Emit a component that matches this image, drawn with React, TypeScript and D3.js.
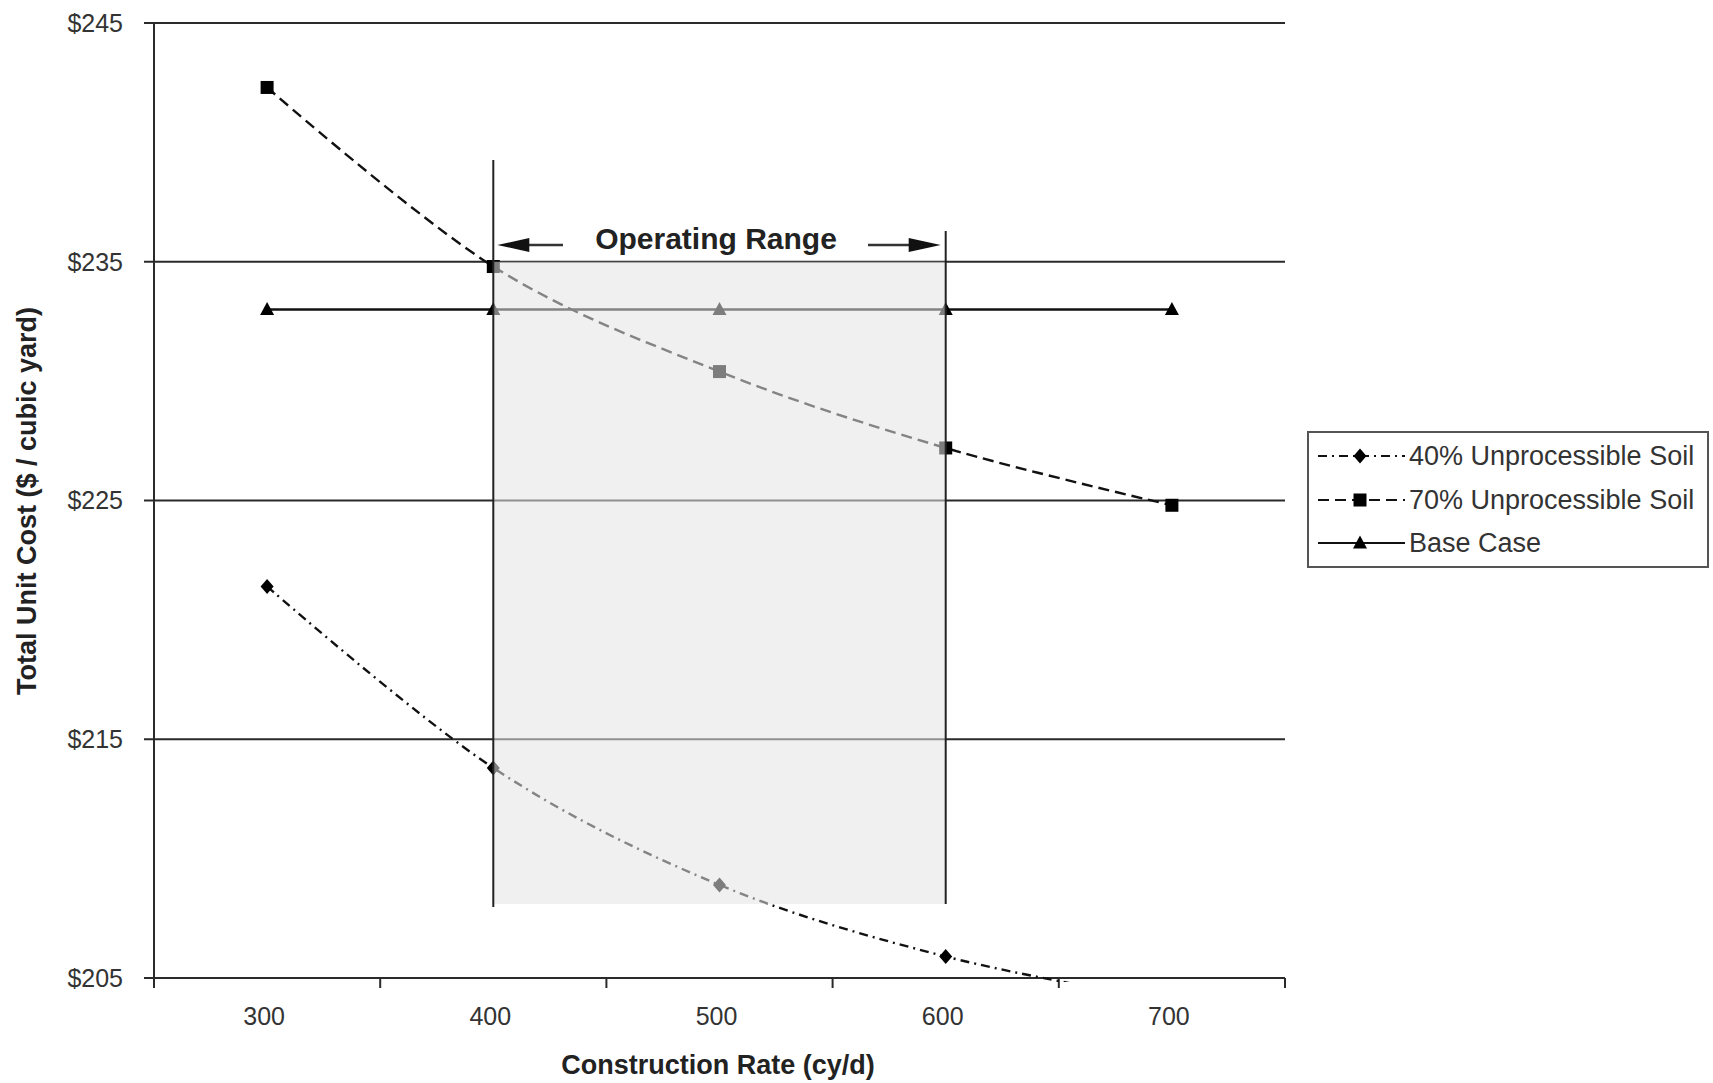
import React from "react";
import * as d3 from "d3";

const categories = [300, 400, 500, 600, 700];
const soil40 = [221.4, 213.8, 208.9, 205.9, 204.0];
const soil70 = [242.3, 234.8, 230.4, 227.2, 224.8];
const baseCase = [233, 233, 233, 233, 233];
const yTicks = [205, 215, 225, 235, 245];
const xTickBounds = [250, 350, 450, 550, 650, 750];
const operatingRange = [400, 600];
const legendLabels = ["40% Unprocessible Soil", "70% Unprocessible Soil", "Base Case"];

const W = 1713;
const H = 1083;
const FONT = "'Liberation Sans', Arial, sans-serif";

export default function App() {
  const x = d3.scaleLinear().domain([250, 750]).range([154, 1285]);
  const y = d3.scaleLinear().domain([205, 245]).range([978, 23]);
  const line = d3
    .line<number>()
    .x((_, i) => x(categories[i]))
    .y((d) => y(d))
    .curve(d3.curveCardinal.tension(0));
  const straight = d3
    .line<number>()
    .x((_, i) => x(categories[i]))
    .y((d) => y(d));

  const series = [
    { name: legendLabels[0], values: soil40, dash: "9,5,2,5", marker: "diamond", path: line },
    { name: legendLabels[1], values: soil70, dash: "11,6", marker: "square", path: line },
    { name: legendLabels[2], values: baseCase, dash: "none", marker: "triangle", path: straight },
  ];

  const marker = (type: string, cx: number, cy: number, key: string | number) => {
    if (type === "square")
      return <rect key={key} x={cx - 6.5} y={cy - 6.5} width={13} height={13} fill="#000" />;
    if (type === "diamond")
      return (
        <path key={key} d={`M${cx},${cy - 7.5}L${cx + 6.5},${cy}L${cx},${cy + 7.5}L${cx - 6.5},${cy}Z`} fill="#000" />
      );
    return (
      <path key={key} d={`M${cx},${cy - 7.5}L${cx + 7},${cy + 5.5}L${cx - 7},${cy + 5.5}Z`} fill="#000" />
    );
  };

  const x0 = x(250);
  const x1 = x(750);
  const rL = x(operatingRange[0]);
  const rR = x(operatingRange[1]);
  const shadeTop = y(235);
  const shadeBottom = y(208.1);

  const lx = 1308;
  const ly = 432;
  const rows = [456, 500, 543];

  return (
    <svg
      width={W}
      height={H}
      style={{ position: "absolute", left: 0, top: 0, background: "#fff" }}
      fontFamily={FONT}
    >
      <defs>
        <clipPath id="plotClip">
          <rect x={x0} y={y(245)} width={x1 - x0} height={y(205) - y(245) + 4} />
        </clipPath>
      </defs>
      <rect x={0} y={0} width={W} height={H} fill="#fff" />

      {/* gridlines */}
      {yTicks.map((t) => (
        <line key={t} x1={x0 - 10} x2={x1} y1={y(t)} y2={y(t)} stroke="#2a2a2a" strokeWidth={2} />
      ))}
      {/* y axis */}
      <line x1={x0} x2={x0} y1={y(245)} y2={y(205) + 10} stroke="#2a2a2a" strokeWidth={2} />
      {xTickBounds.map((t) => (
        <line key={t} x1={x(t)} x2={x(t)} y1={y(205)} y2={y(205) + 10} stroke="#2a2a2a" strokeWidth={2} />
      ))}

      {/* y tick labels */}
      {yTicks.map((t) => (
        <text key={t} x={123} y={y(t)} dy="0.35em" textAnchor="end" fontSize={25} fill="#333">
          {`$${t}`}
        </text>
      ))}
      {/* x tick labels */}
      {categories.map((c) => (
        <text key={c} x={x(c) - 3} y={1016} dy="0.35em" textAnchor="middle" fontSize={25} fill="#333">
          {c}
        </text>
      ))}

      {/* series */}
      <g clipPath="url(#plotClip)">
        {series.map((s) => (
          <path
            key={s.name}
            d={s.path(s.values) || ""}
            fill="none"
            stroke="#111"
            strokeWidth={2.4}
            strokeDasharray={s.dash}
          />
        ))}
      </g>
      {series.map((s) =>
        s.values.map((v, i) =>
          y(v) <= y(205) + 1 ? marker(s.marker, x(categories[i]), y(v), `${s.name}-${i}`) : null
        )
      )}

      {/* operating range shade */}
      <rect
        x={rL}
        y={shadeTop}
        width={rR - rL}
        height={shadeBottom - shadeTop}
        fill="#e4e4e4"
        fillOpacity={0.55}
      />
      <line x1={rL} x2={rL} y1={160} y2={907} stroke="#222" strokeWidth={2} />
      <line x1={rR} x2={rR} y1={231} y2={shadeBottom} stroke="#222" strokeWidth={2} />

      {/* operating range annotation */}
      <line x1={rL + 30} x2={563} y1={245} y2={245} stroke="#333" strokeWidth={2.5} />
      <path d={`M${rL + 4},245L${rL + 36},238L${rL + 36},252Z`} fill="#111" />
      <line x1={868} x2={rR - 30} y1={245} y2={245} stroke="#333" strokeWidth={2.5} />
      <path d={`M${rR - 5},245L${rR - 37},238L${rR - 37},252Z`} fill="#111" />
      <text x={716} y={249} textAnchor="middle" fontSize={30} fontWeight="bold" fill="#222">
        Operating Range
      </text>

      {/* axis titles */}
      <text x={718} y={1065} dy="0.35em" textAnchor="middle" fontSize={27} fontWeight="bold" fill="#222">
        Construction Rate (cy/d)
      </text>
      <text
        transform={`translate(27,${501}) rotate(-90)`}
        dy="0.35em"
        textAnchor="middle"
        fontSize={27}
        fontWeight="bold"
        fill="#222"
      >
        Total Unit Cost ($ / cubic yard)
      </text>

      {/* legend */}
      <rect x={lx} y={ly} width={400} height={135} fill="#fff" stroke="#555" strokeWidth={2} />
      {series.map((s, i) => (
        <g key={s.name}>
          <line
            x1={1318}
            x2={1405}
            y1={rows[i]}
            y2={rows[i]}
            stroke="#111"
            strokeWidth={2}
            strokeDasharray={s.dash}
          />
          {marker(s.marker, 1360, rows[i], `lg-${i}`)}
          <text x={1409} y={rows[i]} dy="0.35em" fontSize={27} fill="#333">
            {s.name}
          </text>
        </g>
      ))}
    </svg>
  );
}
